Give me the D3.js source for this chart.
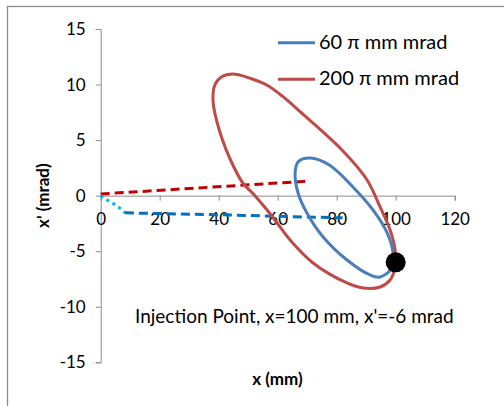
<!DOCTYPE html>
<html>
<head>
<meta charset="utf-8">
<script src="https://cdn.jsdelivr.net/npm/d3@7"></script>
<style>
  html, body { margin: 0; padding: 0; background: #fff; }
  svg { display: block; }
  text { font-family: Lato, "Open Sans", sans-serif; fill: #000; }
</style>
</head>
<body>
<svg id="chart" width="504" height="406"></svg>
<script>
// Phase-space acceptance ellipses (x in mm, x' in mrad)
const ellipse60 = [
  [71.0, 3.39], [77.5, 2.76], [85.5, 0.78], [92.3, -1.29], [97.1, -3.36],
  [99.1, -5.16], [98.7, -6.51], [94.7, -7.32], [91.3, -7.14], [83.5, -5.79],
  [75.4, -3.72], [69.9, -1.56], [66.9, 0.24], [65.9, 2.04], [67.0, 3.06]
];
const ellipse200 = [
  [44.8, 10.95], [50.6, 10.57], [56.3, 9.96], [61.8, 8.91], [67.6, 7.56],
  [81.8, 4.11], [90.3, 1.41], [94.7, -1.02], [98.1, -3.09], [99.8, -4.89],
  [99.8, -6.42], [98.1, -7.59], [94.7, -8.22], [88.9, -8.31], [83.5, -7.86],
  [72.0, -6.06], [64.2, -3.99], [59.8, -2.46], [56.4, -1.29], [52.3, 0.0],
  [48.2, 1.14], [44.8, 2.76], [40.4, 5.73], [38.1, 8.46], [38.7, 9.96], [41.0, 10.7]
];
// Beam trajectories
const redTrack = [[0, 0.15], [70, 1.3]];
const cyanTrack = [[0, 0], [2.2, -0.4], [4.5, -0.75], [6.5, -1.13], [8.2, -1.55]];
const blueTrack = [[8.2, -1.55], [40, -1.72], [60, -1.86], [82, -2.0]];
// Injection point
const injX = 100;
const injXp = -6;

const xTicks = [0, 20, 40, 60, 80, 100, 120];
const yTicks = [-15, -10, -5, 0, 5, 10, 15];
const seriesNames = ["60 \u03c0 mm mrad", "200 \u03c0 mm mrad"];
const seriesColors = ["#4a7ebb", "#be4b48"];

const svg = d3.select("#chart");

// Chart area border
svg.append("rect")
  .attr("x", 7.5).attr("y", 6.5)
  .attr("width", 520).attr("height", 420)
  .attr("fill", "none").attr("stroke", "#8c8c8c").attr("stroke-width", 1.3);

const x = d3.scaleLinear().domain([0, 120]).range([100.7, 454.7]);
const y = d3.scaleLinear().domain([-15, 15]).range([362.3, 29]);

const axisColor = "#8c8c8c";
const tickFont = 17;

// Y axis
const gy = svg.append("g")
  .attr("transform", `translate(${x(0)},0)`)
  .call(d3.axisLeft(y).tickValues(yTicks).tickSize(5).tickPadding(10).tickFormat(d3.format("d")));
gy.select(".domain").attr("stroke", axisColor);
gy.selectAll(".tick line").attr("stroke", axisColor);
gy.selectAll(".tick text").attr("font-size", tickFont).attr("fill", "#000")
  .attr("font-family", "Lato, 'Open Sans', sans-serif")
  .text(d => d < 0 ? "-" + Math.abs(d) : d);

// X axis sits on x' = 0
const gx = svg.append("g")
  .attr("transform", `translate(0,${y(0)})`)
  .call(d3.axisBottom(x).tickValues(xTicks).tickSize(5).tickPadding(12).tickFormat(d3.format("d")));
gx.select(".domain").attr("stroke", axisColor);
gx.selectAll(".tick line").attr("stroke", axisColor);
gx.selectAll(".tick text").attr("font-size", tickFont).attr("fill", "#000")
  .attr("font-family", "Lato, 'Open Sans', sans-serif");

// Axis titles
svg.append("text")
  .attr("transform", `translate(49,${y(0)}) rotate(-90)`)
  .attr("text-anchor", "middle")
  .attr("font-size", 17).attr("font-weight", "bold")
  .text("x' (mrad)");
svg.append("text")
  .attr("x", 277.5).attr("y", 385)
  .attr("text-anchor", "middle")
  .attr("font-size", 17).attr("font-weight", "bold")
  .text("x (mm)");

const line = d3.line().x(d => x(d[0])).y(d => y(d[1]));
const closed = d3.line().x(d => x(d[0])).y(d => y(d[1])).curve(d3.curveCatmullRomClosed.alpha(0.5));

// Trajectories
svg.append("path").datum(redTrack).attr("d", line)
  .attr("fill", "none").attr("stroke", "#c00000").attr("stroke-width", 3)
  .attr("stroke-dasharray", "9,5");
svg.append("path").datum(cyanTrack).attr("d", d3.line().x(d => x(d[0])).y(d => y(d[1])).curve(d3.curveMonotoneX))
  .attr("fill", "none").attr("stroke", "#00b0f0").attr("stroke-width", 3)
  .attr("stroke-dasharray", "3,4");
svg.append("path").datum(blueTrack).attr("d", line)
  .attr("fill", "none").attr("stroke", "#0070c0").attr("stroke-width", 3)
  .attr("stroke-dasharray", "9,5");

// Ellipses
svg.append("path").datum(ellipse200).attr("d", closed)
  .attr("fill", "none").attr("stroke", seriesColors[1]).attr("stroke-width", 3);
svg.append("path").datum(ellipse60).attr("d", closed)
  .attr("fill", "none").attr("stroke", seriesColors[0]).attr("stroke-width", 3);

// Injection point marker
svg.append("circle")
  .attr("cx", x(injX)).attr("cy", y(injXp)).attr("r", 10)
  .attr("fill", "#000");

svg.append("text")
  .attr("x", 135).attr("y", 323)
  .attr("font-size", 19)
  .text(`Injection Point, x=${injX} mm, x'=${injXp} mrad`);

// Legend
const legend = svg.append("g");
const legendY = [42.7, 79.3];
seriesNames.forEach((name, i) => {
  legend.append("line")
    .attr("x1", 278).attr("x2", 315)
    .attr("y1", legendY[i]).attr("y2", legendY[i])
    .attr("stroke", seriesColors[i]).attr("stroke-width", 3);
  legend.append("text")
    .attr("x", 319).attr("y", legendY[i] + 6)
    .attr("font-size", 20)
    .text(name);
});
</script>
</body>
</html>
